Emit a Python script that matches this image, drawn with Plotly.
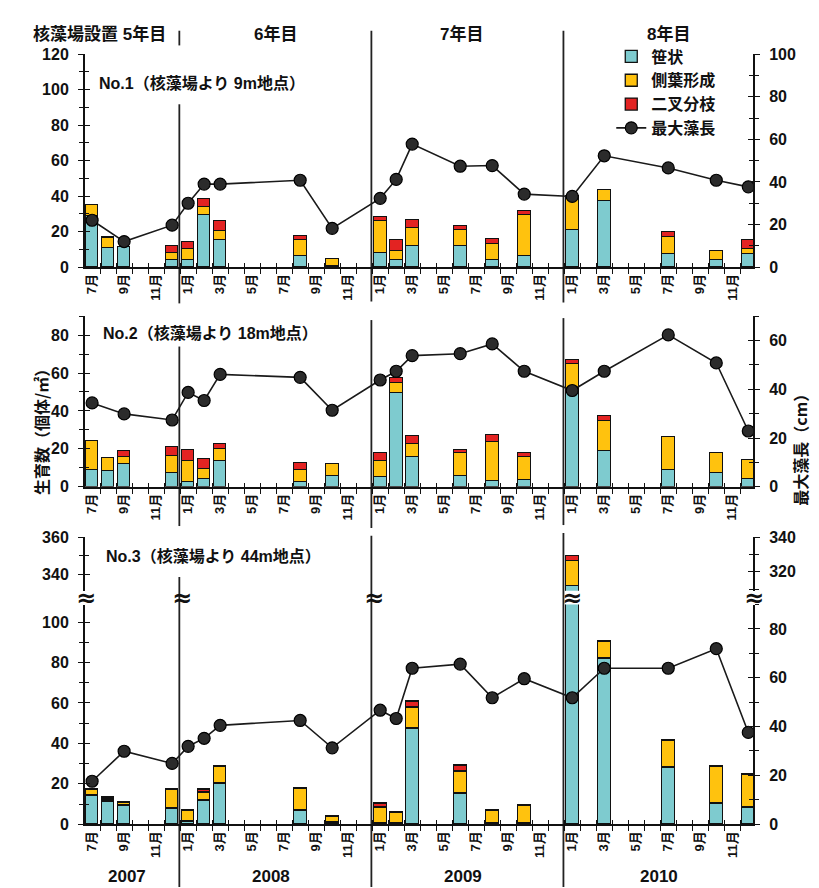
import plotly.graph_objects as go

# ---------------- data ----------------
BAR_DATES = ['2007-07', '2007-08', '2007-09', '2007-12', '2008-01', '2008-02', '2008-03',
             '2008-08', '2008-10', '2009-01', '2009-02', '2009-03', '2009-06', '2009-08',
             '2009-10', '2010-01', '2010-03', '2010-07', '2010-10', '2010-12']
LINE_DATES = ['2007-07', '2007-09', '2007-12', '2008-01', '2008-02', '2008-03',
              '2008-08', '2008-10', '2009-01', '2009-02', '2009-03', '2009-06', '2009-08',
              '2009-10', '2010-01', '2010-03', '2010-07', '2010-10', '2010-12']

MONTH_TICKS = ['7月', '9月', '11月', '1月', '3月', '5月', '7月', '9月', '11月',
               '1月', '3月', '5月', '7月', '9月', '11月',
               '1月', '3月', '5月', '7月', '9月', '11月']
YEARS = ['2007', '2008', '2009', '2010']
YEAR_LABEL_POS = [2.2, 11.2, 23.2, 35.4]
STAGE_LABELS = ['核藻場設置 5年目', '6年目', '7年目', '8年目']
SEASON_LINES = [5.45, 17.45, 29.45]

SERIES_NAMES = ['笹状', '側葉形成', '二叉分枝', '最大藻長']

# No.1 (9m)
P1_TEAL = [28.5, 10.5, 11, 4, 4, 29, 15, 6, 0.5, 8, 4, 12, 12, 4, 6, 21, 37, 7, 4, 7]
P1_YEL = [6.5, 5.5, 0, 4, 6, 5, 5, 9, 3.8, 18, 5, 10, 8.5, 9, 23, 17, 6.5, 10, 5, 3]
P1_RED = [0, 1, 0, 4, 4, 4, 6, 2.4, 0, 2, 6, 4.4, 2.5, 2.5, 2.5, 2, 0, 2.5, 0, 5]
P1_LEN = [22, 12, 19.7, 30, 39, 39, 40.8, 18.2, 32.3, 41.2, 57.8, 47.4, 47.7, 34.3,
          33.2, 52.3, 46.6, 40.8, 37.7]

# No.2 (18m)
P2_TEAL = [9, 8.5, 11.7, 7, 2.5, 4, 13.3, 2.5, 5.5, 5.2, 49.4, 15.8, 5.7, 3, 3.4, 51.3,
           18.9, 9, 7.2, 4.3]
P2_YEL = [15, 6.5, 4.1, 9.1, 11.2, 5.2, 6.5, 6.4, 6.2, 8.6, 5.2, 6.5, 11.9, 20.5, 12.4,
          13.3, 15.8, 17.2, 10.8, 10]
P2_RED = [0, 0, 2.8, 4.6, 5.7, 5.2, 2.6, 3.6, 0, 4, 2.6, 4.3, 1.7, 3.6, 1.7, 2, 2.6, 0, 0, 0]
P2_LEN = [34.4, 29.9, 27.4, 38.7, 35.4, 46.1, 44.9, 31.4, 43.8, 47.4, 53.8, 54.6, 58.6,
          47.4, 39.5, 47.4, 62.3, 50.8, 22.9]

# No.3 (44m)
P3_TEAL = [14, 11, 9.3, 8, 1.5, 11.7, 20, 7, 1, 0.3, 0.5, 47.3, 15.3, 0.3, 0.3, 333.5,
           82, 28.3, 10.4, 8.5]
P3_YEL = [3.3, 1, 1.3, 9.3, 5.5, 4, 8.6, 10.5, 3, 8, 5.5, 10.5, 10.6, 6.5, 9, 14, 8.6,
          13, 18.4, 16.3]
P3_RED = [0, 1.3, 0, 0, 0, 1.6, 0, 0, 0, 2, 0, 2.8, 3.3, 0, 0, 2.7, 0, 0, 0, 0]
P3_LEN = [17.6, 29.9, 24.9, 31.9, 35.2, 40.5, 42.5, 31.3, 46.7, 43.3, 63.9, 65.6, 51.8,
          59.6, 51.8, 63.9, 63.9, 71.9, 37.6]

PANEL_TITLES = ['No.1（核藻場より 9m地点）', 'No.2（核藻場より 18m地点）',
                'No.3（核藻場より 44m地点）']

# ---------------- styling / layout ----------------
W, H = 819, 888
TEAL = '#7ECBCF'
YELLOW = '#FFC20E'
RED = '#E32322'
FONT = 'Liberation Sans, Arial, Noto Sans CJK JP'
JFONT = 'Noto Sans CJK JP, Liberation Sans'


def fy(px):
    return 1 - px / H


def fx(px):
    return px / W


def mindex(s):
    y, m = map(int, s.split('-'))
    return (y - 2007) * 12 + m - 7


bar_x = [mindex(d) for d in BAR_DATES]
line_x = [mindex(d) for d in LINE_DATES]

X_DOMAIN = [fx(76), fx(745)]
X_RANGE = [-0.45, 41.3]

fig = go.Figure()


def add_panel(xa, yl, yr, teal, yel, red, length, legend):
    for vals, col, nm in ((teal, TEAL, SERIES_NAMES[0]), (yel, YELLOW, SERIES_NAMES[1]),
                          (red, RED, SERIES_NAMES[2])):
        fig.add_trace(go.Bar(
            x=bar_x, y=[v if v > 0 else None for v in vals], name=nm, width=0.78,
            marker=dict(color=col, line=dict(color='#111', width=1.3)),
            xaxis=xa, yaxis=yl, showlegend=legend, legendgroup=nm))
    fig.add_trace(go.Scatter(
        x=line_x, y=length, name=SERIES_NAMES[3], mode='lines+markers',
        line=dict(color='#1a1a1a', width=1.6),
        marker=dict(size=12, color='#2b2b2b', line=dict(color='#000', width=1.2)),
        xaxis=xa, yaxis=yr, showlegend=legend, legendgroup=SERIES_NAMES[3]))


add_panel('x', 'y', 'y2', P1_TEAL, P1_YEL, P1_RED, P1_LEN, True)
add_panel('x2', 'y3', 'y4', P2_TEAL, P2_YEL, P2_RED, P2_LEN, False)
add_panel('x3', 'y5', 'y6', P3_TEAL, P3_YEL, P3_RED, P3_LEN, False)
add_panel('x4', 'y7', 'y8', P3_TEAL, P3_YEL, P3_RED, P3_LEN, False)

tick_font = dict(family=FONT, size=16, color='#111', weight='bold')


def xaxis(anchor, visible=True):
    d = dict(domain=X_DOMAIN, range=X_RANGE, anchor=anchor, showgrid=False,
             zeroline=False)
    if not visible:
        d.update(visible=False)
        return d
    d.update(showline=True, linecolor='#111', linewidth=1.6,
             tickmode='array', tickvals=list(range(0, 41, 2)), ticktext=MONTH_TICKS,
             tickangle=-90, ticks='outside', ticklen=0, tickcolor='rgba(0,0,0,0)',
             tickfont=dict(family=FONT, size=13, color='#111', weight='bold'),
             minor=dict(tick0=-0.5, dtick=1, ticks='outside', ticklen=5,
                        tickwidth=1.4, tickcolor='#111'))
    return d


def xaxis_twin(anchor, base):
    return dict(domain=X_DOMAIN, range=X_RANGE, anchor=anchor, overlaying=base,
                showgrid=False, zeroline=False, showline=False, showticklabels=False,
                tickmode='array', tickvals=[], ticks='',
                minor=dict(tick0=-0.5, dtick=1, ticks='inside', ticklen=4,
                           tickwidth=1.4, tickcolor='#111'))


def yaxis(domain, rng, tickvals, anchor, side='left', overlay=None):
    d = dict(domain=domain, range=rng, anchor=anchor, side=side, showgrid=False,
             zeroline=False, showline=True, linecolor='#111', linewidth=1.8,
             tickmode='array', tickvals=tickvals, ticks='outside', ticklen=5,
             tickwidth=1.4, tickcolor='#111', tickfont=tick_font,
             ticklabelstandoff=6,
             minor=dict(tick0=0, dtick=10, ticks='outside', ticklen=4, tickwidth=1.2,
                        tickcolor='#111'))
    if overlay:
        d['overlaying'] = overlay
    return d


def yaxis_twin(domain, rng, tickvals, anchor, side, base):
    return dict(domain=domain, range=rng, anchor=anchor, side=side, overlaying=base,
                showgrid=False, zeroline=False, showline=False, showticklabels=False,
                tickmode='array', tickvals=tickvals, ticks='inside', ticklen=5,
                tickwidth=1.4, tickcolor='#111',
                minor=dict(tick0=0, dtick=10, ticks='inside', ticklen=4, tickwidth=1.2,
                           tickcolor='#111'))


P1_DOM = [fy(256), fy(39)]
P2_DOM = [fy(480), fy(306)]
P3L_DOM = [fy(824), fy(600)]
P3U_DOM = [fy(586), fy(531)]

Y_SPECS = [
    # (domain, range, tickvals, anchor, side, base)
    (P1_DOM, [0, 120], list(range(0, 121, 20)), 'x', 'left', None),
    (P1_DOM, [0, 100], list(range(0, 101, 20)), 'x', 'right', 'y'),
    (P2_DOM, [0, 90], list(range(0, 81, 20)), 'x2', 'left', None),
    (P2_DOM, [0, 70], list(range(0, 61, 20)), 'x2', 'right', 'y3'),
    (P3L_DOM, [0, 108.7], list(range(0, 101, 20)), 'x3', 'left', None),
    (P3L_DOM, [0, 90], list(range(0, 81, 20)), 'x3', 'right', 'y5'),
    (P3U_DOM, [330.8, 360.5], [340, 360], 'x4', 'left', None),
    (P3U_DOM, [309, 340.4], [320, 340], 'x4', 'right', 'y7'),
]
BASES = ['y', 'y', 'y3', 'y3', 'y5', 'y5', 'y7', 'y7']

layout_axes = {}
for i, (dom, rng, tv, anc, side, base) in enumerate(Y_SPECS):
    key = 'yaxis' if i == 0 else f'yaxis{i + 1}'
    layout_axes[key] = yaxis(dom, rng, tv, anc, side, base)
    layout_axes[f'yaxis{i + 9}'] = yaxis_twin(dom, rng, tv, anc, side, BASES[i])
    # invisible placeholder so that the tick-only twin axis is rendered
    fig.add_trace(go.Scatter(x=[X_RANGE[0]], y=[rng[0]], mode='markers',
                             marker=dict(opacity=0, size=1), hoverinfo='skip',
                             showlegend=False, xaxis=anc, yaxis=f'y{i + 9}'))

layout_axes['xaxis'] = xaxis('y')
layout_axes['xaxis2'] = xaxis('y3')
layout_axes['xaxis3'] = xaxis('y5')
layout_axes['xaxis4'] = xaxis('y7', False)
for k, (anc, base) in enumerate((('y', 'x'), ('y3', 'x2'), ('y5', 'x3'))):
    layout_axes[f'xaxis{k + 5}'] = xaxis_twin(anc, base)
    fig.add_trace(go.Scatter(x=[X_RANGE[0]], y=[0], mode='markers',
                             marker=dict(opacity=0, size=1), hoverinfo='skip',
                             showlegend=False, xaxis=f'x{k + 5}', yaxis=anc))

fig.update_layout(
    width=W, height=H, margin=dict(l=0, r=0, t=0, b=0),
    paper_bgcolor='white', plot_bgcolor='rgba(0,0,0,0)',
    barmode='stack', bargap=0,
    legend=dict(x=fx(603), y=fy(24), xanchor='left', yanchor='top',
                traceorder='normal', tracegroupgap=0, bgcolor='rgba(0,0,0,0)',
                font=dict(family=JFONT, size=16, color='#111', weight='bold'),
                itemwidth=30),
    showlegend=True,
    **layout_axes,
)

# separator lines (pixel extents per panel)
LINE_SEGMENTS = [
    [(15, 30), (90, 293), (337, 520), (572, 888)],
    [(15, 291), (310, 522), (530, 888)],
    [(15, 292), (308, 519), (527, 888)],
]
for xv, segs in zip(SEASON_LINES, LINE_SEGMENTS):
    for a, b in segs:
        fig.add_shape(type='line', xref='x', yref='paper', x0=xv, x1=xv,
                      y0=fy(a), y1=fy(b), line=dict(color='#222', width=1.8),
                      layer='below')

ann = []
stage_px = [91, 267, 453, 660]
for t, p in zip(STAGE_LABELS, stage_px):
    ann.append(dict(text=t, x=fx(p), y=fy(18), xref='paper', yref='paper',
                    showarrow=False, xanchor='center', yanchor='middle',
                    font=dict(family=FONT, size=17, color='#111', weight='bold')))
title_pos = [(88, 68), (92, 323), (95, 551)]
for t, (px_, py_) in zip(PANEL_TITLES, title_pos):
    ann.append(dict(text=t, x=fx(px_), y=fy(py_), xref='paper', yref='paper',
                    showarrow=False, xanchor='left', yanchor='middle',
                    font=dict(family=FONT, size=16, color='#111', weight='bold')))
for t, p in zip(YEARS, YEAR_LABEL_POS):
    ann.append(dict(text=t, x=p, y=fy(877), xref='x3', yref='paper',
                    showarrow=False, xanchor='center', yanchor='middle',
                    font=dict(family=FONT, size=17, color='#111', weight='bold')))
ann.append(dict(text='生育数（個体/㎡）', x=fx(18), y=fy(420), xref='paper', yref='paper',
                showarrow=False, textangle=-90,
                font=dict(family=JFONT, size=16, color='#111', weight='bold')))
ann.append(dict(text='最大藻長（cm）', x=fx(806), y=fy(438), xref='paper', yref='paper',
                showarrow=False, textangle=-90,
                font=dict(family=JFONT, size=16, color='#111', weight='bold')))
# axis break marks
BREAK_PX = [77, 173, 365, 564, 746]
for p in BREAK_PX:
    ann.append(dict(text='≈', x=fx(p), y=fy(593), xref='paper', yref='paper',
                    showarrow=False, xanchor='center', yanchor='middle',
                    font=dict(family='DejaVu Sans', size=24, color='#111', weight='bold')))
fig.update_layout(annotations=ann)

fig.write_html('out.html')
